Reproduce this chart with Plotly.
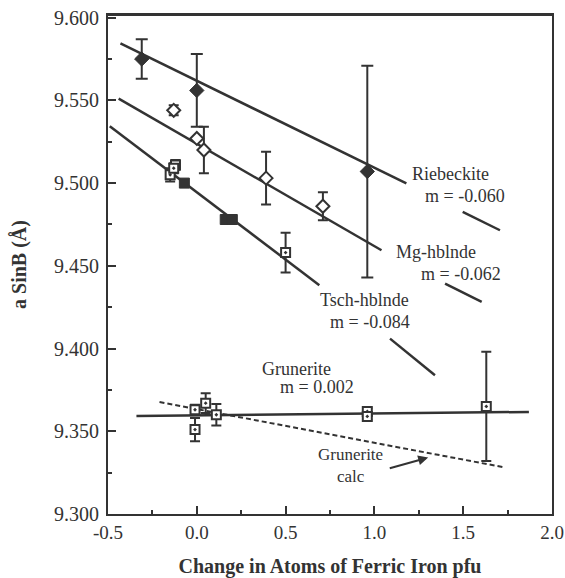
import plotly.graph_objects as go

# ---- data ----
rieb_x = [-0.31, 0.0, 0.96]
rieb_y = [9.575, 9.556, 9.507]
rieb_err = [0.012, 0.022, 0.064]

mg_x = [-0.13, 0.0, 0.04, 0.39, 0.71]
mg_y = [9.544, 9.527, 9.520, 9.503, 9.486]
mg_err = [0.003, 0.0, 0.014, 0.016, 0.0085]

tsch_open_x = [-0.15, -0.12, -0.13, 0.50]
tsch_open_y = [9.505, 9.511, 9.509, 9.458]
tsch_open_err = [0.004, 0.003, 0.003, 0.012]

tsch_fill_x = [-0.07, 0.16, 0.20]
tsch_fill_y = [9.500, 9.478, 9.478]

grun_x = [-0.01, -0.01, 0.05, 0.11, 0.96, 0.96, 1.63]
grun_y = [9.363, 9.351, 9.367, 9.360, 9.362, 9.359, 9.365]
grun_err = [0.003, 0.007, 0.006, 0.0065, 0.002, 0.002, 0.033]

# fitted lines (end points)
rieb_fit_x = [-0.43, 1.18]
rieb_fit_y = [9.5845, 9.4998]
mg_fit_x = [-0.44, 1.04]
mg_fit_y = [9.5511, 9.4594]
tsch_fit_x = [-0.49, 0.69]
tsch_fit_y = [9.5344, 9.4383]
grun_fit_x = [-0.34, 1.87]
grun_fit_y = [9.3592, 9.3617]
grun_calc_x = [-0.21, 1.735]
grun_calc_y = [9.3677, 9.3281]

x_ticks = [-0.5, 0.0, 0.5, 1.0, 1.5, 2.0]
x_tick_labels = ["-0.5", "0.0", "0.5", "1.0", "1.5", "2.0"]
y_ticks = [9.30, 9.35, 9.40, 9.45, 9.50, 9.55, 9.60]
y_tick_labels = ["9.300", "9.350", "9.400", "9.450", "9.500", "9.550", "9.600"]

INK = "#333333"
FONT = "Liberation Serif"

fig = go.Figure()

def line(x, y):
    fig.add_trace(go.Scatter(x=x, y=y, mode="lines",
                             line=dict(color=INK, width=2.5),
                             hoverinfo="skip", showlegend=False))

line(rieb_fit_x, rieb_fit_y)
line(mg_fit_x, mg_fit_y)
line(tsch_fit_x, tsch_fit_y)
line(grun_fit_x, grun_fit_y)
fig.add_trace(go.Scatter(x=grun_calc_x, y=grun_calc_y, mode="lines",
                         line=dict(color=INK, width=2, dash="5px,3px"),
                         hoverinfo="skip", showlegend=False))

def eb(arr, w=5):
    return dict(type="data", array=arr, visible=True, color=INK, thickness=2, width=w)

fig.add_trace(go.Scatter(x=rieb_x, y=rieb_y, mode="markers",
                         marker=dict(symbol="diamond", size=11, color=INK,
                                     line=dict(color=INK, width=1)),
                         error_y=eb(rieb_err, 6), showlegend=False))
fig.add_trace(go.Scatter(x=mg_x, y=mg_y, mode="markers",
                         marker=dict(symbol="diamond", size=10, color="white",
                                     line=dict(color=INK, width=2)),
                         error_y=eb(mg_err), showlegend=False))
fig.add_trace(go.Scatter(x=tsch_open_x, y=tsch_open_y, mode="markers",
                         marker=dict(symbol="square-dot", size=9, color="white",
                                     line=dict(color=INK, width=2)),
                         error_y=eb(tsch_open_err), showlegend=False))
fig.add_trace(go.Scatter(x=tsch_fill_x, y=tsch_fill_y, mode="markers",
                         marker=dict(symbol="square", size=10, color=INK,
                                     line=dict(color=INK, width=1)),
                         showlegend=False))
fig.add_trace(go.Scatter(x=grun_x, y=grun_y, mode="markers",
                         marker=dict(symbol="square-dot", size=9, color="white",
                                     line=dict(color=INK, width=2)),
                         error_y=eb(grun_err), showlegend=False))

tfont = dict(family=FONT, size=18, color=INK)
labels = [
    ("Riebeckite", 1.426, 9.5058),
    ("m = -0.060", 1.510, 9.4923),
    ("Mg-hblnde", 1.347, 9.4584),
    ("m = -0.062", 1.488, 9.4453),
    ("Tsch-hblnde", 0.947, 9.4292),
    ("m = -0.084", 0.975, 9.4161),
    ("Grunerite", 0.562, 9.3879),
    ("m = 0.002", 0.675, 9.3768),
]
for t, x, y in labels:
    fig.add_annotation(x=x, y=y, text=t, showarrow=False, font=tfont,
                       xanchor="center", yanchor="middle")
fig.add_annotation(x=0.866, y=9.3292, text="Grunerite<br>calc", showarrow=False,
                   font=dict(family=FONT, size=17, color=INK),
                   xanchor="center", yanchor="middle")

fig.add_annotation(x=1.303, y=9.3341, ax=1.078, ay=9.3274, axref="x", ayref="y",
                   text="", showarrow=True, arrowhead=2, arrowsize=1,
                   arrowwidth=2, arrowcolor=INK)

for x0, y0, x1, y1 in [(1.497, 9.4826, 1.707, 9.4715),
                       (1.398, 9.4393, 1.604, 9.4282),
                       (1.088, 9.4060, 1.341, 9.3839)]:
    fig.add_shape(type="line", x0=x0, y0=y0, x1=x1, y1=y1,
                  line=dict(color=INK, width=2.5))

# top frame edge
fig.add_shape(type="line", xref="paper", yref="paper", x0=0, x1=1, y0=1, y1=1,
              line=dict(color=INK, width=2))

axis_common = dict(showline=True, linecolor=INK, linewidth=2, mirror=True,
                   showgrid=False, zeroline=False, ticks="inside",
                   tickcolor=INK, tickwidth=2, ticklen=8, automargin=False,
                   ticklabeloverflow="allow")

fig.update_layout(
    width=565, height=578,
    margin=dict(l=108, r=13, t=15, b=64),
    paper_bgcolor="white", plot_bgcolor="white",
    xaxis=dict(range=[-0.5, 2.0], tickvals=x_ticks, ticktext=x_tick_labels,
               tickfont=dict(family=FONT, size=19, color=INK),
               minor=dict(dtick=0.25, tick0=-0.5, ticks="inside", ticklen=4,
                          tickwidth=2, tickcolor=INK),
               title=dict(text="<b>Change in Atoms of Ferric Iron pfu</b>",
                          font=dict(family=FONT, size=20, color=INK), standoff=19),
               **axis_common),
    yaxis=dict(range=[9.3, 9.6016], tickvals=y_ticks, ticktext=y_tick_labels,
               tickfont=dict(family=FONT, size=20, color=INK),
               ticklabelstandoff=3,
               minor=dict(dtick=0.025, tick0=9.3, ticks="inside", ticklen=4,
                          tickwidth=2, tickcolor=INK),
               title=dict(text="<b>a SinB (Å)</b>",
                          font=dict(family=FONT, size=20, color=INK), standoff=22),
               **axis_common),
)

# remove the default page margin so the figure sits at the window's top-left
fig.write_html("out.html", config={"displayModeBar": False},
               post_script="document.body.style.margin='0';document.body.style.overflow='hidden';")
